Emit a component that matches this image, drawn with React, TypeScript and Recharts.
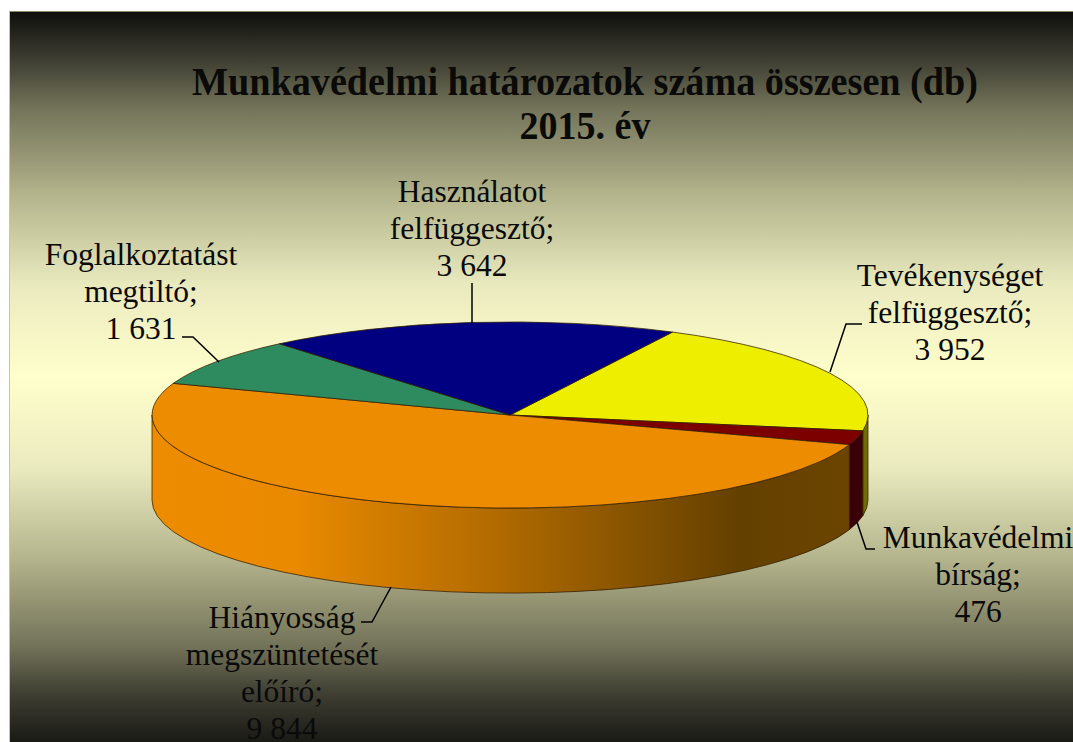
import { Cell, Pie, PieChart } from "recharts";

const categories = [
  "Tevékenységet felfüggesztő",
  "Munkavédelmi bírság",
  "Hiányosság megszüntetését előíró",
  "Foglalkoztatást megtiltó",
  "Használatot felfüggesztő",
];
const values = [3952, 476, 9844, 1631, 3642];
const labelLines = [
  ["Tevékenységet", "felfüggesztő;"],
  ["Munkavédelmi", "bírság;"],
  ["Hiányosság", "megszüntetését", "előíró;"],
  ["Foglalkoztatást", "megtiltó;"],
  ["Használatot", "felfüggesztő;"],
];

const topColors = ["#eeee00", "#7d0000", "#ee8c00", "#2e8b60", "#000080"];
const wallColors = ["#6e6e00", "#3a0008", "url(#orangeWall)", "#2e8b60", "#000080"];

// where each label sits and how its leader line runs
const labelLayout = [
  { x: 950, y: 286, leader: "M862,324 L846,324 L830,372" },
  { x: 978, y: 548, leader: "M857,522 L866,549 L875,549" },
  { x: 282, y: 628, leader: "M361,622 L372,622 L391,587" },
  { x: 141, y: 265, leader: "M182,337 L193,337 L219,362" },
  { x: 472, y: 202, leader: "M472,283 L472,323" },
];

const CX = 510;
const CY = 415;
const RADIUS = 358;
const FLATTEN = 0.26;
const DEPTH = 85;
const EDGE = "rgba(50,30,0,0.75)";

const data = categories.map((name, i) => ({ name, value: values[i] }));

const rad = (deg: number) => (deg * Math.PI) / 180;
const px = (r: number, deg: number) => +(CX + r * Math.cos(rad(deg))).toFixed(2);
const py = (r: number, deg: number) => +(CY - r * FLATTEN * Math.sin(rad(deg))).toFixed(2);

function TopSlice(props: any) {
  const { outerRadius: r, startAngle, endAngle, fill } = props;
  const large = Math.abs(startAngle - endAngle) > 180 ? 1 : 0;
  const d = `M${CX},${CY} L${px(r, startAngle)},${py(r, startAngle)} A${r},${r * FLATTEN} 0 ${large} 1 ${px(r, endAngle)},${py(r, endAngle)} Z`;
  return <path d={d} fill={fill} stroke={EDGE} strokeWidth={1} />;
}

// side of the disc, only the part facing the viewer
function WallSlice(props: any) {
  const { outerRadius: r, startAngle, endAngle, fill } = props;
  const hi = Math.min(startAngle, 0);
  const lo = Math.max(endAngle, -180);
  if (hi <= lo) return <g />;
  const ry = r * FLATTEN;
  const d =
    `M${px(r, hi)},${py(r, hi)} A${r},${ry} 0 0 1 ${px(r, lo)},${py(r, lo)} ` +
    `L${px(r, lo)},${py(r, lo) + DEPTH} A${r},${ry} 0 0 0 ${px(r, hi)},${py(r, hi) + DEPTH} Z`;
  return <path d={d} fill={fill} stroke={EDGE} strokeWidth={1} />;
}

function SliceLabel(props: any) {
  const { index, value } = props;
  const place = labelLayout[index];
  const lines = [...labelLines[index], String(value).replace(/(\d)(\d{3})$/, "$1 $2")];
  return (
    <g>
      <path d={place.leader} fill="none" stroke="#000" strokeWidth={1.5} />
      <text
        x={place.x}
        y={place.y}
        textAnchor="middle"
        fontFamily="Liberation Serif"
        fontSize={31.5}
        fill="#0a0a0a"
      >
        {lines.map((line, i) => (
          <tspan key={line} x={place.x} dy={i === 0 ? 0 : 37}>
            {line}
          </tspan>
        ))}
      </text>
    </g>
  );
}

export default function App() {
  return (
    <div
      style={{
        position: "fixed",
        left: 0,
        top: 0,
        width: 1073,
        height: 742,
        background: "#fff",
        overflow: "hidden",
      }}
    >
      <div
        style={{
          position: "absolute",
          left: 9,
          top: 11,
          width: 1064,
          height: 731,
          borderLeft: "1px solid #c8c8a0",
          borderTop: "1px solid #8a8a68",
          boxSizing: "border-box",
          background:
            "linear-gradient(180deg, #0f0f0c 0%, #3f3f33 6.7%, #727259 13%, #9a9a78 20.4%, #b8b890 25.9%, #eaeabf 37.5%, #ffffcc 50%, #eaeabf 62.5%, #b8b890 74.1%, #9a9a78 79.6%, #727259 87%, #3f3f33 93.3%, #1a1a15 100%)",
        }}
      />
      <PieChart
        width={1073}
        height={742}
        margin={{ top: 0, right: 0, bottom: 0, left: 0 }}
        style={{ position: "absolute", left: 0, top: 0 }}
      >
        <defs>
          <linearGradient id="orangeWall" gradientUnits="userSpaceOnUse" x1={152} y1={0} x2={850} y2={0}>
            <stop offset="0%" stopColor="#ee8c00" />
            <stop offset="20%" stopColor="#ea8a00" />
            <stop offset="50%" stopColor="#b06a00" />
            <stop offset="84%" stopColor="#644000" />
            <stop offset="100%" stopColor="#6b4400" />
          </linearGradient>
        </defs>
        <text
          x={585}
          y={95}
          textAnchor="middle"
          fontFamily="Liberation Serif"
          fontWeight="bold"
          fontSize={40}
          fill="#0a0a08"
          textLength={786}
          lengthAdjust="spacingAndGlyphs"
        >
          Munkavédelmi határozatok száma összesen (db)
        </text>
        <text
          x={585}
          y={139}
          textAnchor="middle"
          fontFamily="Liberation Serif"
          fontWeight="bold"
          fontSize={40}
          fill="#0a0a08"
          textLength={131}
          lengthAdjust="spacingAndGlyphs"
        >
          2015. év
        </text>
        <Pie
          data={data}
          dataKey="value"
          nameKey="name"
          cx={CX}
          cy={CY}
          outerRadius={RADIUS}
          startAngle={63}
          endAngle={-297}
          stroke="none"
          shape={WallSlice}
          isAnimationActive={false}
        >
          {data.map((d, i) => (
            <Cell key={d.name} fill={wallColors[i]} />
          ))}
        </Pie>
        <Pie
          data={data}
          dataKey="value"
          nameKey="name"
          cx={CX}
          cy={CY}
          outerRadius={RADIUS}
          startAngle={63}
          endAngle={-297}
          stroke="none"
          shape={TopSlice}
          label={SliceLabel}
          labelLine={false}
          isAnimationActive={false}
        >
          {data.map((d, i) => (
            <Cell key={d.name} fill={topColors[i]} />
          ))}
        </Pie>
      </PieChart>
    </div>
  );
}
